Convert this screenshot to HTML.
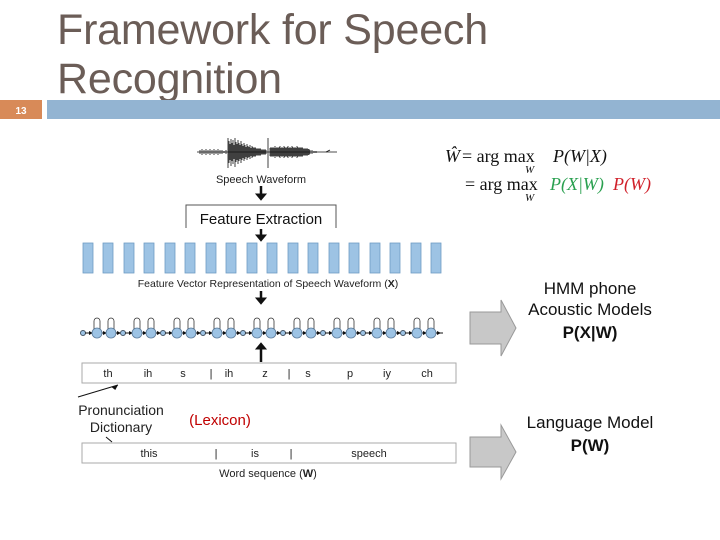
<!DOCTYPE html>
<html><head><meta charset="utf-8"><style>
body{margin:0;background:#fff;width:720px;height:540px;overflow:hidden;position:relative;font-family:"Liberation Sans",sans-serif}
.t{position:absolute;left:57px;color:#6b5d57;font-size:43px;line-height:49px;letter-spacing:-0.2px}
</style></head><body>
<div class="t" style="top:6px">Framework for Speech<br>Recognition</div>
<svg width="720" height="540" style="position:absolute;left:0;top:0">
<rect x="0" y="100" width="42" height="19" fill="#d88a58"/>
<text x="21" y="114" font-size="10" fill="#fff" text-anchor="middle" font-weight="bold">13</text>
<rect x="47" y="100" width="673" height="19" fill="#93b4d2"/>
<g stroke="#111" stroke-width="0.8">
<line x1="197" y1="152" x2="337" y2="152"/>
<path d="M200 150V154M202 149V155M204 150V154M206 149V155M208 150V154M210 149V155M212 150V154M214 149V155M216 150V154M218 149V155M220 150V154M222 150V154M224 151V153M226 150V154
M229 141V163M230 144V160M231 139V166M232 143V161M233 140V164M234 145V159M235 138V167M236 142V162M237 144V160M238 140V164M239 143V161M240 145V159M241 141V163M242 144V160M243 146V158M244 143V161M245 145V159M246 147V157M247 144V160M248 146V158M249 147V157M250 145V159M251 148V156M252 146V158M253 147V157M254 148V156M255 147V157M256 148V156M257 149V155M258 148V156M259 149V155M260 148V156M261 149V155M262 150V154M263 149V155M264 150V154M265 149V155M266 150V154
M270 148V156M271 147V157M272 148V156M273 147V157M274 148V156M275 146V158M276 148V156M277 147V157M278 148V156M279 147V157M280 146V158M281 148V156M282 147V157M283 148V156M284 146V158M285 147V157M286 148V156M287 147V157M288 146V158M289 148V156M290 147V157M291 148V156M292 146V158M293 147V157M294 148V156M295 147V157M296 148V156M297 146V158M298 147V157M299 148V156M300 147V157M301 148V156M302 147V157M303 148V156M304 149V155M305 148V156M306 149V155M307 148V156M308 149V155M309 149V155M310 150V154M312 150V154M314 151V153M316 151V153"/>
<line x1="228" y1="138" x2="228" y2="168"/><line x1="268" y1="138" x2="268" y2="168"/>
<line x1="326" y1="152" x2="330" y2="150"/>
</g>
<text x="261" y="183" font-size="11" text-anchor="middle" fill="#222">Speech Waveform</text>
<g fill="#111" stroke="#111">
<line x1="261" y1="186" x2="261" y2="196" stroke-width="2.5"/><path d="M256 194 h10 l-5 6z"/>
<line x1="261" y1="229" x2="261" y2="237" stroke-width="2.5"/><path d="M256 235 h10 l-5 6z"/>
<line x1="261" y1="291" x2="261" y2="300" stroke-width="2.5"/><path d="M256 298 h10 l-5 6z"/>
<line x1="261" y1="348" x2="261" y2="362" stroke-width="2.5"/><path d="M256 349 h10 l-5 -6z"/>
</g>
<path d="M186 228 V205 H336 V228" fill="none" stroke="#555"/>
<text x="261" y="224" font-size="15" text-anchor="middle" fill="#111">Feature Extraction</text>
<defs>
<rect id="b" width="10" height="30" fill="#9dc3e4" stroke="#6f9cc4" stroke-width="0.8"/>
<g id="ph">
<circle cx="0" cy="333" r="2.5" fill="#9dc3e4" stroke="#456"/>
<line x1="2" y1="333" x2="28" y2="333" stroke="#111"/>
<path d="M10 333 l-4-2v4z M24 333 l-4-2v4z" fill="#111"/>
<path d="M11 330 v-9 a3 3 0 0 1 6 0 v9 M25 330 v-9 a3 3 0 0 1 6 0 v9" fill="none" stroke="#333" stroke-width="0.8"/>
<circle cx="14" cy="333" r="5" fill="#9dc3e4" stroke="#5a7a9a" stroke-width="0.8"/>
<circle cx="28" cy="333" r="5" fill="#9dc3e4" stroke="#5a7a9a" stroke-width="0.8"/>
<line x1="33" y1="333" x2="40" y2="333" stroke="#111"/><path d="M38 333 l-4-2v4z" fill="#111"/>
</g>
</defs>
<g transform="translate(0,243)">
<use href="#b" x="83"/><use href="#b" x="103"/><use href="#b" x="124"/><use href="#b" x="144"/><use href="#b" x="165"/><use href="#b" x="185"/><use href="#b" x="206"/><use href="#b" x="226"/><use href="#b" x="247"/><use href="#b" x="267"/><use href="#b" x="288"/><use href="#b" x="308"/><use href="#b" x="329"/><use href="#b" x="349"/><use href="#b" x="370"/><use href="#b" x="390"/><use href="#b" x="411"/><use href="#b" x="431"/>
</g>
<text x="268" y="287" font-size="10.5" text-anchor="middle" fill="#222">Feature Vector Representation of Speech Waveform (<tspan font-weight="bold">X</tspan>)</text>
<use href="#ph" x="83"/><use href="#ph" x="123"/><use href="#ph" x="163"/><use href="#ph" x="203"/><use href="#ph" x="243"/><use href="#ph" x="283"/><use href="#ph" x="323"/><use href="#ph" x="363"/><use href="#ph" x="403"/>
<rect x="82" y="363" width="374" height="20" fill="#fff" stroke="#aaa"/>
<g font-size="11" fill="#222" text-anchor="middle">
<text x="108" y="377">th</text><text x="148" y="377">ih</text><text x="183" y="377">s</text><text x="211" y="377">|</text><text x="229" y="377">ih</text><text x="265" y="377">z</text><text x="289" y="377">|</text><text x="308" y="377">s</text><text x="350" y="377">p</text><text x="387" y="377">iy</text><text x="427" y="377">ch</text>
</g>
<line x1="78" y1="397" x2="118" y2="385" stroke="#111"/><path d="M118 385 l-7 0 3 4z" fill="#111" transform="rotate(-16 118 385)"/>
<g font-size="14" fill="#222" text-anchor="middle"><text x="121" y="415">Pronunciation</text><text x="121" y="432">Dictionary</text></g>
<line x1="106" y1="437" x2="112" y2="442" stroke="#111"/>
<text x="220" y="425" font-size="15" fill="#c00000" text-anchor="middle">(Lexicon)</text>
<rect x="82" y="443" width="374" height="20" fill="#fff" stroke="#aaa"/>
<g font-size="11" fill="#222" text-anchor="middle">
<text x="149" y="457">this</text><text x="216" y="457">|</text><text x="255" y="457">is</text><text x="291" y="457">|</text><text x="369" y="457">speech</text>
<text x="268" y="477">Word sequence (<tspan font-weight="bold">W</tspan>)</text>
</g>
<path d="M470 312 H501 V300 L516 328 L501 356 V344 H470Z" fill="#c8c8c8" stroke="#999"/>
<path d="M470 437 H501 V425 L516 452 L501 479 V467 H470Z" fill="#c8c8c8" stroke="#999"/>
<g font-size="17" fill="#111" text-anchor="middle">
<text x="590" y="294">HMM phone</text><text x="590" y="315">Acoustic Models</text>
<text x="590" y="338" font-weight="bold">P(X|W)</text>
<text x="590" y="428">Language Model</text><text x="590" y="451" font-weight="bold">P(W)</text>
</g>
<g font-family="Liberation Serif,serif" font-size="18" fill="#111">
<text x="445" y="162" font-style="italic">Ŵ</text>
<text x="462" y="162">= arg max</text><text x="525" y="173" font-size="11" font-style="italic">W</text>
<text x="553" y="162" font-style="italic">P(W|X)</text>
<text x="465" y="190">= arg max</text><text x="525" y="201" font-size="11" font-style="italic">W</text>
<text x="550" y="190" font-style="italic" fill="#2aa050">P(X|W)</text>
<text x="613" y="190" font-style="italic" fill="#d0202a">P(W)</text>
</g>
</svg>
</body></html>
